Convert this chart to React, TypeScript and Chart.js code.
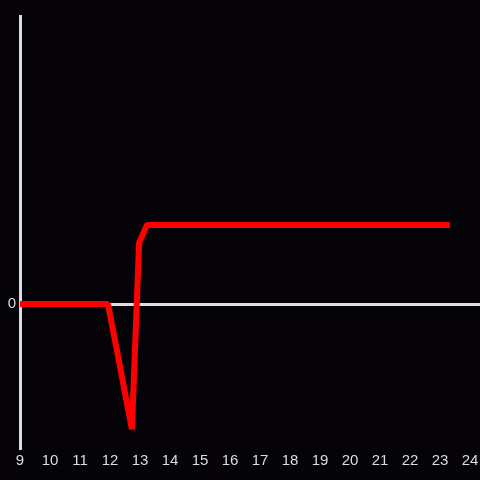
import React, { useEffect, useRef } from "react";
import { Chart, registerables } from "chart.js";

Chart.register(...registerables);

const hours = [8.5, 11.93, 12.23, 12.73, 12.97, 13.23, 23.33];
const values = [0, 0, -0.32, -0.87, 0.424, 0.549, 0.549];
const xTickMin = 9;
const xTickMax = 24;
const yTickLabels = ["0"];

const BG = "#050307";
const AXIS = "#dddddd";

export default function App() {
  const ref = useRef<HTMLCanvasElement | null>(null);
  useEffect(() => {
    document.body.style.margin = "0";
    document.body.style.background = BG;
    const ctx = ref.current!;
    const chart = new Chart(ctx, {
      type: "line",
      data: {
        datasets: [
          {
            data: hours.map((h, i) => ({ x: h, y: values[i] })),
            borderColor: "#ff0000",
            borderWidth: 6,
            borderJoinStyle: "bevel",
            pointRadius: 0,
            tension: 0,
            fill: false,
          },
        ],
      },
      options: {
        animation: false,
        responsive: true,
        maintainAspectRatio: false,
        layout: { padding: { top: 16, left: 0, right: 0, bottom: 0 } },
        plugins: { legend: { display: false }, tooltip: { enabled: false } },
        scales: {
          x: {
            type: "linear",
            min: xTickMin,
            max: xTickMin + 460 / 30,
            border: { display: false },
            grid: { display: false, drawTicks: false },
            ticks: {
              stepSize: 1,
              includeBounds: false,
              color: AXIS,
              font: { size: 15, lineHeight: 1.73 },
              padding: 0,
              maxRotation: 0,
              autoSkip: false,
              callback: (v: any) => (v >= xTickMin && v <= xTickMax ? String(v) : ""),
            },
            afterFit: (s: any) => {
              s.height = 32;
            },
          },
          y: {
            min: -1,
            max: 2,
            border: { display: true, color: AXIS, width: 3 },
            grid: {
              drawTicks: false,
              color: AXIS,
              lineWidth: 3,
            },
            afterBuildTicks: (s: any) => {
              s.ticks = yTickLabels.map((t) => ({ value: Number(t) }));
            },
            ticks: {
              color: AXIS,
              font: { size: 15 },
              padding: 4,
              callback: (v: any) => String(v),
            },
            afterFit: (s: any) => {
              s.width = 20;
            },
          },
        },
      },
    });
    return () => chart.destroy();
  }, []);
  return (
    <div style={{ width: 480, height: 480, background: BG, position: "relative" }}>
      <canvas ref={ref} />
    </div>
  );
}
